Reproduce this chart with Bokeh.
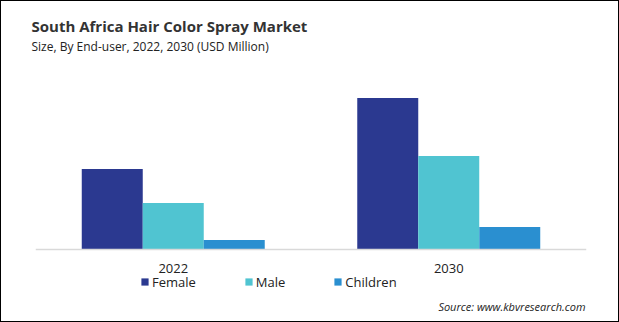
from bokeh.plotting import figure
from bokeh.models import FactorRange, Range1d, Legend, Title, Label
from bokeh.transform import dodge
from bokeh.embed import file_html
from bokeh.resources import INLINE

years = ["2022", "2030"]
segments = ["Female", "Male", "Children"]
female = [8.0, 15.1]
male = [4.6, 9.3]
children = [0.9, 2.2]
colors = ["#2B3990", "#50C4D1", "#2A8FD0"]

data = {"year": years, "Female": female, "Male": male, "Children": children}

p = figure(x_range=FactorRange(factors=years, range_padding=0), y_range=Range1d(-7.15, 19.45),
           frame_width=551, frame_height=266, output_backend="svg", toolbar_location=None,
           min_border_left=34, min_border_right=32, min_border_top=53, min_border_bottom=1,
           styles={"border": "1px solid #000000"})
p.title = None

bw = 0.2214
offsets = [-bw, 0, bw]
renderers = []
for seg, off, c in zip(segments, offsets, colors):
    r = p.vbar(x=dodge("year", off, range=p.x_range), top=seg, width=bw, source=data,
               fill_color=c, line_color=None)
    renderers.append((seg, r))

p.yaxis.visible = False
p.xgrid.visible = False
p.ygrid.visible = False
p.outline_line_color = None
p.xaxis.fixed_location = 0
p.xaxis.axis_line_color = "#D9D9D9"
p.xaxis.axis_line_width = 1.5
p.xaxis.major_tick_line_color = None
p.xaxis.minor_tick_line_color = None
p.xaxis.major_label_text_font = "Open Sans"
p.xaxis.major_label_text_font_size = "13px"
p.xaxis.major_label_text_color = "#222222"
p.xaxis.major_label_standoff = 9

legend = Legend(items=[(s, [r]) for s, r in renderers], orientation="horizontal",
                location=(105, 29.5), border_line_color=None, background_fill_alpha=0,
                label_text_font="Open Sans", label_text_font_size="13px",
                label_text_color="#222222", glyph_width=9, glyph_height=9,
                label_standoff=3, spacing=48, padding=0, margin=0, label_height=14)
p.add_layout(legend)

src = Label(x=550, y=14.5, x_units="screen", y_units="screen",
            text="Source: www.kbvresearch.com", text_align="right",
            text_baseline="alphabetic", text_font="Open Sans",
            text_font_style="italic", text_font_size="11px", text_color="#222222")
p.add_layout(src)

sub = Title(text="Size, By End-user, 2022, 2030 (USD Million)", text_font="Open Sans",
            text_font_style="normal", text_font_size="12px", text_color="#222222",
            offset=-4, standoff=0)
p.add_layout(sub, "above")
main = Title(text="South Africa Hair Color Spray Market", text_font="Open Sans",
             text_font_style="bold", text_font_size="15px", text_color="#333333",
             offset=-4, standoff=0)
p.add_layout(main, "above")

open("out.html", "w").write(file_html(p, INLINE))
